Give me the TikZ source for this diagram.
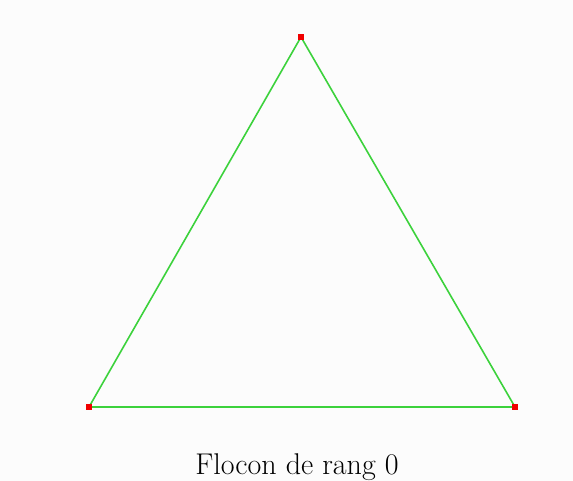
\documentclass[tikz,border=0pt]{standalone}
\usetikzlibrary{positioning}

\definecolor{edgegreen}{RGB}{60,210,60}
\definecolor{ptred}{RGB}{240,0,0}

\begin{document}
\begin{tikzpicture}[
    x=1pt, y=-1pt,
    vertex/.style={draw=none, fill=ptred, rectangle,
                   minimum size=6pt, inner sep=0pt},
    edge/.style={draw=edgegreen, line width=1.6pt},
    caption/.style={font=\fontsize{30}{34}\selectfont, inner sep=0pt}]
  \useasboundingbox[fill=black!1] (0,0) rectangle (573,481);
  \node[vertex] (top) at (301,37) {};
  \node[vertex] (left) at (89,407) {};
  \node[vertex] (right) at (515,407) {};
  \draw[edge] (top.center) -- (right.center);
  \draw[edge] (right.center) -- (left.center);
  \draw[edge] (left.center) -- (top.center);
  \node[vertex] at (top) {};
  \node[vertex] at (left) {};
  \node[vertex] at (right) {};

  \node[caption, anchor=base] (title) at (297,474) {Flocon de rang 0};
\end{tikzpicture}
\end{document}
